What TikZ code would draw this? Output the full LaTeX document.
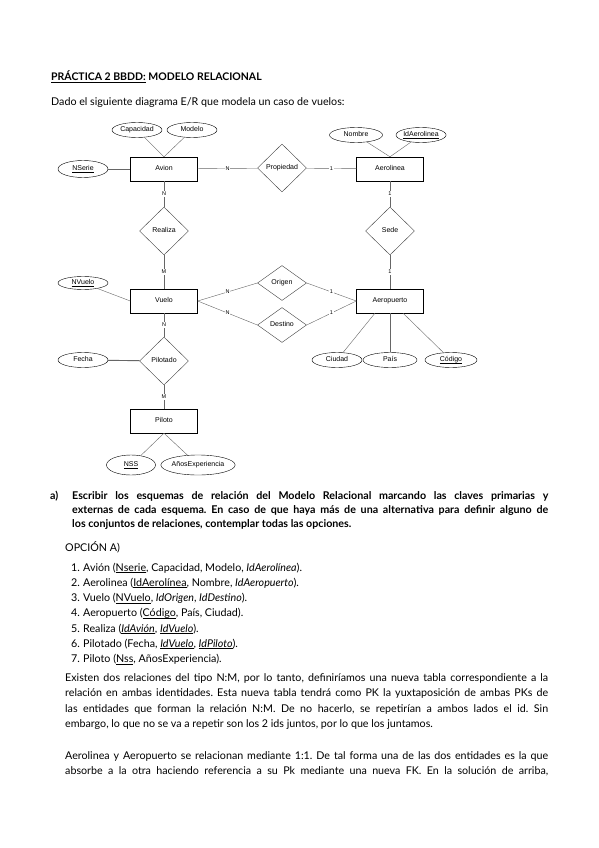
\documentclass[tikz,border=0pt]{standalone}
\usepackage{fontspec}
\setmainfont{Lato}
\newfontfamily\erfont{Liberation Sans}
\frenchspacing
\usetikzlibrary{shapes.geometric,
	positioning,
	calc}
\newsavebox\subrbox
\newcommand{\subr}[1]{\sbox\subrbox{#1}\rlap{\rule[-1.4pt]{\wd\subrbox}{0.45pt}}\usebox\subrbox}
\tikzstyle{ent}=[draw, rectangle, minimum width=67pt, minimum height=24pt, inner sep=0,
		text height=5.2pt, text depth=1.5pt, font=\erfont\fontsize{7}{8}\selectfont]
\tikzstyle{att}=[draw, ellipse, minimum width=50pt, minimum height=15pt, inner sep=0,
		text height=5.2pt, text depth=1.5pt, font=\erfont\fontsize{7}{8}\selectfont]
\tikzstyle{rel}=[draw=black!75, diamond, minimum width=49pt, minimum height=48pt, inner sep=0,
		text height=5.2pt, text depth=1.5pt, font=\erfont\fontsize{7}{8}\selectfont]
\tikzstyle{con}=[draw=black!60, line width=0.4pt]
\tikzstyle{card}=[fill=white, inner sep=0.8pt, font=\erfont\fontsize{5.5}{6}\selectfont]
\tikzstyle{txt}=[anchor=base west, inner sep=0]
\tikzstyle{jus}=[anchor=base west, inner sep=0, font=\fontsize{10.7}{13}\selectfont\bfseries]

\begin{document}
\begin{tikzpicture}[x=1pt, y=-1pt, font=\fontsize{10.7}{13}\selectfont]
                \useasboundingbox[fill=white] (0,0) rectangle (599,848);
                % cabecera
                \node[txt, font=\fontsize{10.5}{13}\selectfont\bfseries] (titulo) at (51,81) {\subr{PRÁCTICA 2 BBDD:} MODELO RELACIONAL};
                \node[txt] (intro) at (51,106) {Dado el siguiente diagrama E/R que modela un caso de vuelos:};
                % entidades
                \node[ent] (avion) at (164,169) {Avion};
                \node[ent] (aerol) at (390,169) {Aerolinea};
                \node[ent] (vuelo) at (164,301) {Vuelo};
                \node[ent] (aerop) at (390,301) {Aeropuerto};
                \node[ent] (piloto) at (164,421) {Piloto};
                % relaciones
                \node[rel] (prop) at (282,168) {Propiedad};
                \node[rel] (realiza) at (164,231) {Realiza};
                \node[rel] (sede) at (390,231) {Sede};
                \node[rel, minimum height=35pt] (origen) at (282,283) {Origen};
                \node[rel, minimum height=35pt] (destino) at (282,325) {Destino};
                \node[rel] (pilotado) at (164,361) {Pilotado};
                % atributos
                \node[att] (capac) at (137,130) {Capacidad};
                \node[att] (modelo) at (192,130) {Modelo};
                \node[att, minimum height=17pt] (nserie) at (83,169) {\subr{NSerie}};
                \node[att, minimum width=53pt] (nombre) at (356,135) {Nombre};
                \node[att, minimum width=48pt] (idaer) at (421,135) {\subr{IdAerolinea}};
                \node[att, minimum height=13pt] (nvuelo) at (83,283) {\subr{NVuelo}};
                \node[att] (fecha) at (83,360) {Fecha};
                \node[att] (ciudad) at (337,360) {Ciudad};
                \node[att, minimum width=54pt] (pais) at (390,360) {País};
                \node[att, minimum width=52pt] (codigo) at (451,360) {\subr{Código}};
                \node[att, minimum width=49pt, minimum height=20pt] (nss) at (131,465) {\subr{NSS}};
                \node[att, minimum width=60pt, minimum height=20pt] (anos) at (198,465) {AñosExperiencia};
                % lineas
                \draw[con] (capac) -- (avion.north);
                \draw[con] (modelo) -- (avion.north);
                \draw[con] (nserie) -- (avion);
                \draw[con] (avion) -- node[card] {N} (prop);
                \draw[con] (prop) -- node[card] {1} (aerol);
                \draw[con] (nombre) -- (aerol.north);
                \draw[con] (idaer) -- (aerol.north);
                \draw[con] (avion) -- node[card] {N} (realiza);
                \draw[con] (realiza) -- node[card] {M} (vuelo);
                \draw[con] (aerol) -- node[card] {1} (sede);
                \draw[con] (sede) -- node[card] {1} (aerop);
                \draw[con] (nvuelo) -- (vuelo.west);
                \draw[con] (vuelo.east) -- node[card] {N} (origen.west);
                \draw[con] (vuelo.east) -- node[card] {N} (destino.west);
                \draw[con] (origen.east) -- node[card] {1} (aerop.west);
                \draw[con] (destino.east) -- node[card] {1} (aerop.west);
                \draw[con] (aerop.219) -- (ciudad);
                \draw[con] (aerop) -- (pais);
                \draw[con] (aerop.317) -- (codigo);
                \draw[con] (vuelo) -- node[card] {N} (pilotado);
                \draw[con, line width=0.9pt] (fecha) -- (pilotado);
                \draw[con] (pilotado) -- node[card] {M} (piloto);
                \draw[con] (piloto.south) -- (nss);
                \draw[con] (piloto.south) -- (anos);
                % enunciado a)
                \node[jus] (apart) at (50,499) {a)};
                \node[jus] (en1) at (72,499) {\makebox[476pt][s]{Escribir los esquemas de relación del Modelo Relacional marcando las claves primarias y}};
                \node[jus] (en2) at (72,513) {\makebox[476pt][s]{externas de cada esquema. En caso de que haya más de una alternativa para definir alguno de}};
                \node[jus] (en3) at (72,527) {los conjuntos de relaciones, contemplar todas las opciones.};
                \node[txt] (opcion) at (65,551) {OPCIÓN A)};
                % esquemas
                \foreach \i/\esq in {1/{Avión (\subr{Nserie}, Capacidad, Modelo, \textit{IdAerolínea}).},
                    2/{Aerolinea (\subr{IdAerolínea}, Nombre, \textit{IdAeropuerto}).},
                    3/{Vuelo (\subr{NVuelo}, \textit{IdOrigen}, \textit{IdDestino}).},
                    4/{Aeropuerto (\subr{Código}, País, Ciudad).},
                    5/{Realiza (\subr{\textit{IdAvión}}, \subr{\textit{IdVuelo}}).},
                    6/{Pilotado (Fecha, \subr{\textit{IdVuelo}}, \subr{\textit{IdPiloto}}).},
                    7/{Piloto (\subr{Nss}, AñosExperiencia).}} {
                    \node[txt] (num\i) at (71,{555.7+15.3*\i}) {\i.};
                    \node[txt] (esq\i) at (83,{555.7+15.3*\i}) {\esq};
                }
                % explicacion
                \node[txt] (p1) at (65,681) {\makebox[483pt][s]{Existen dos relaciones del tipo N:M, por lo tanto, definiríamos una nueva tabla correspondiente a la}};
                \node[txt] (p2) at (65,696.5) {\makebox[483pt][s]{relación en ambas identidades. Esta nueva tabla tendrá como PK la yuxtaposición de ambas PKs de}};
                \node[txt] (p3) at (65,712) {\makebox[483pt][s]{las entidades que forman la relación N:M. De no hacerlo, se repetirían a ambos lados el id. Sin}};
                \node[txt] (p4) at (65,727.5) {embargo, lo que no se va a repetir son los 2 ids juntos, por lo que los juntamos.};
                \node[txt] (q1) at (65,759) {\makebox[483pt][s]{Aerolinea y Aeropuerto se relacionan mediante 1:1. De tal forma una de las dos entidades es la que}};
                \node[txt] (q2) at (65,774.5) {\makebox[483pt][s]{absorbe a la otra haciendo referencia a su Pk mediante una nueva FK. En la solución de arriba,}};
            \end{tikzpicture}
\end{document}
